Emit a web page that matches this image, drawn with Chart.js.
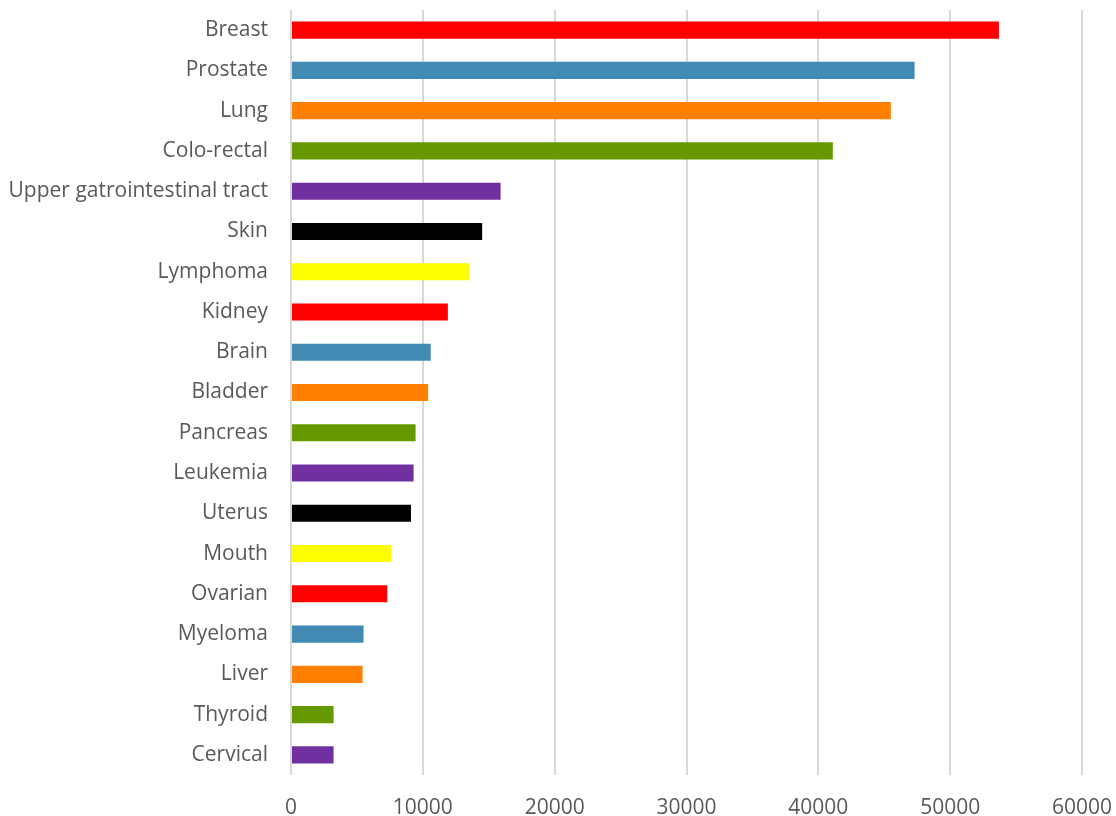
<!DOCTYPE html>
<html>
<head>
<meta charset="utf-8">
<script src="https://cdn.jsdelivr.net/npm/chart.js@4"></script>
<style>
    html, body { margin: 0; padding: 0; background: #fff; }
    #wrap { width: 1116px; height: 816px; }
</style>
</head>
<body>
<div id="wrap"><canvas id="chart" width="1116" height="816"></canvas></div>
<script>
const categories = [
    "Breast", "Prostate", "Lung", "Colo-rectal", "Upper gatrointestinal tract",
    "Skin", "Lymphoma", "Kidney", "Brain", "Bladder", "Pancreas", "Leukemia",
    "Uterus", "Mouth", "Ovarian", "Myeloma", "Liver", "Thyroid", "Cervical",
];
const cases = [
    53700, 47300, 45500, 41100, 15900,
    14500, 13500, 11900, 10600, 10400, 9450, 9300,
    9100, 7600, 7300, 5500, 5430, 3230, 3230,
];
const xTicks = [0, 10000, 20000, 30000, 40000, 50000, 60000];

// colours cycle every seven bars
const palette = ["#FF0000", "#418AB3", "#FF8000", "#669900", "#7030A0", "#000000", "#FFFF00"];

const TEXT_COLOR = "#595959";
const FONT = { family: "'Open Sans', sans-serif", size: 21 };

new Chart(document.getElementById("chart"), {
    type: "bar",
    data: {
        labels: categories,
        datasets: [{
            data: cases,
            backgroundColor: categories.map((_, i) => palette[i % palette.length]),
            categoryPercentage: 1,
            barPercentage: 0.425,
        }],
    },
    options: {
        indexAxis: "y",
        responsive: false,
        animation: false,
        layout: { padding: { top: 10, right: 34, bottom: 0, left: 0 } },
        plugins: {
            legend: { display: false },
            tooltip: { enabled: false },
        },
        scales: {
            x: {
                min: 0,
                max: 60000,
                afterBuildTicks: (scale) => {
                    scale.ticks = xTicks.map((value) => ({ value }));
                },
                afterFit: (scale) => {
                    scale.height = 41;
                    // the outer tick labels may overhang the plot edges
                    scale.paddingLeft = 0;
                    scale.paddingRight = 0;
                },
                grid: { color: "#D9D9D9", lineWidth: 2, drawTicks: false },
                border: { display: false },
                ticks: {
                    color: TEXT_COLOR,
                    font: FONT,
                    padding: 20,
                    maxRotation: 0,
                    callback: (value) => String(value),
                },
            },
            y: {
                afterFit: (scale) => {
                    scale.width = 291;
                    scale.paddingTop = 0;
                    scale.paddingBottom = 0;
                },
                grid: { display: false, drawTicks: false },
                border: { display: false },
                ticks: { color: TEXT_COLOR, font: FONT, padding: 23, autoSkip: false },
            },
        },
    },
});
</script>
</body>
</html>
